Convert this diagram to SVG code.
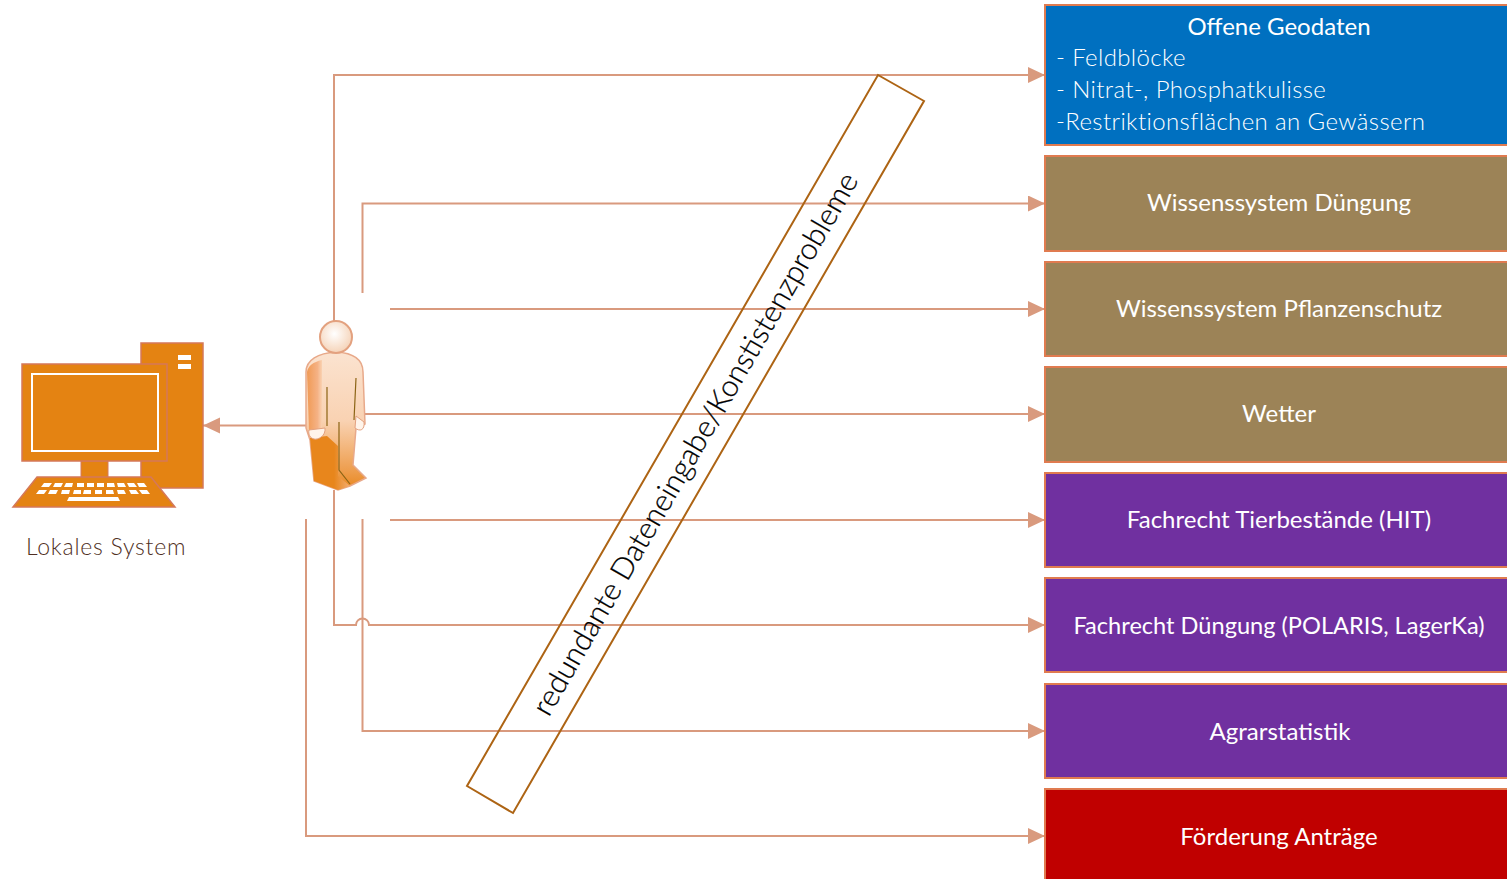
<svg xmlns="http://www.w3.org/2000/svg" width="1507" height="879" viewBox="0 0 1507 879">
<defs>
<marker id="arr" markerUnits="userSpaceOnUse" markerWidth="18" markerHeight="18" refX="17" refY="8" orient="auto"><path d="M0 0L17 8L0 16Z" fill="#d99a7e"/></marker>
<linearGradient id="body" x1="0" y1="0" x2="0" y2="1"><stop offset="0" stop-color="#fbe3d0"/><stop offset=".5" stop-color="#f9d2b2"/><stop offset=".85" stop-color="#ee9f50"/><stop offset="1" stop-color="#e8861c"/></linearGradient>
<linearGradient id="leg" x1="0" y1="0" x2="1" y2="0"><stop offset="0" stop-color="#e8861c"/><stop offset=".6" stop-color="#e8861c"/><stop offset="1" stop-color="#f2ad72"/></linearGradient>
<linearGradient id="arm" x1="0" y1="0" x2="1" y2="0"><stop offset="0" stop-color="#f09a55"/><stop offset=".7" stop-color="#f5b285"/><stop offset="1" stop-color="#f9d2b2"/></linearGradient>
<radialGradient id="head" cx=".45" cy=".4" r=".6"><stop offset="0" stop-color="#fff"/><stop offset="1" stop-color="#f5d3b8"/></radialGradient>
</defs>
<style>
.box{stroke:#e07b50;stroke-width:2}
.t{font-family:"Lato","Liberation Sans",sans-serif;fill:#fff;font-size:24px;text-anchor:middle}
.l{text-anchor:start;font-weight:300;letter-spacing:.38px}
.c{fill:none;stroke:#d99a7e;stroke-width:2}
.pc{fill:#e48312;stroke:#d5785a;stroke-width:1.5}
.w{fill:#fff}
</style>
<g id="connectors">
<path class="c" d="M334 321V75H1045" marker-end="url(#arr)"/>
<path class="c" d="M362.500 293V203.500H1045" marker-end="url(#arr)"/>
<path class="c" d="M390 309H1045" marker-end="url(#arr)"/>
<path class="c" d="M362 414H1045" marker-end="url(#arr)"/>
<path class="c" d="M390 520H1045" marker-end="url(#arr)"/>
<path class="c" d="M334 490V625H356A6.500 6.500 0 0 1 369 625H1045" marker-end="url(#arr)"/>
<path class="c" d="M362.500 519V731H1045" marker-end="url(#arr)"/>
<path class="c" d="M306 519V836H1045" marker-end="url(#arr)"/>
<path class="c" d="M308 425.500H203" marker-end="url(#arr)"/>
</g>
<g id="lokales-system">
<rect class="pc" x="141" y="343" width="62" height="145"/>
<rect class="w" x="178" y="355" width="13" height="5"/><rect class="w" x="178" y="364" width="13" height="5"/>
<rect x="81" y="461" width="27" height="18" fill="#e48312" stroke="#d5785a"/>
<rect class="pc" x="22" y="364" width="145" height="97"/>
<rect x="32" y="374" width="126" height="77" fill="none" stroke="#fff" stroke-width="2"/>
<path class="pc" d="M37 477H151L175 507H13Z"/>
<path class="w" d="M44 483h8l-3 4h-8zM55 483h8l-2 4h-8zM66 483h7l-1 4h-8zM77 483h7v4h-7zM87 483h7v4h-7zM97 483h7v4h-7zM107 483h7l1 4h-8zM117 483h7l2 4h-8zM127 483h7l3 4h-8zM137 483h7l3 4h-8z"/>
<path class="w" d="M39 490h8l-3 4h-8zM50 490h8l-2 4h-8zM62 490h8l-1 4h-8zM74 490h7v4h-8zM84 490h7v4h-8zM95 490h7v4h-7zM106 490h7l1 4h-8zM117 490h7l2 4h-8zM129 490h7l3 4h-8zM139 490h8l3 4h-8z"/>
<path class="w" d="M69 497H118L120 501H67Z"/>
<text x="26" y="555" style="font-family:Lato,'Liberation Sans',sans-serif;font-size:23px;font-weight:300;fill:#4f2f23;letter-spacing:.75px">Lokales System</text>
</g>
<g id="person">
<path d="M306 372C306 360 318 353 336 352C354 353 363 360 363 372L365 424L356 428L353 465L366 478L350 486L338 490L314 481L310 440L306 428Z" fill="url(#body)" stroke="#e8a98a" stroke-width="1.500"/>
<path d="M310 438L327 436L338 446V476L350 486L338 490L314 481Z" fill="url(#leg)"/>
<path d="M307 372C308 366 313 362 322 360V430L309 430Z" fill="url(#arm)"/>
<path d="M327 387V426M339 422V470L350 484M356 378L354 420" fill="none" stroke="#8c6414" stroke-width="1.200"/>
<path d="M309 430L325 428C326 436 318 440 314 439C310 438 308 434 309 430Z" fill="#fff4ea" stroke="#e3a17f"/>
<path d="M356 416L364 422C365 430 360 432 355 428Z" fill="#fff4ea" stroke="#e3a17f"/>
<circle cx="336" cy="337" r="16" fill="url(#head)" stroke="#e3a17f" stroke-width="2"/>
</g>
<g id="offene-geodaten">
<rect class="box" x="1045" y="5" width="463" height="140" fill="#0070c0"/>
<text class="t" x="1279" y="35">Offene Geodaten</text>
<text class="t l" x="1056" y="66">- Feldblöcke</text>
<text class="t l" x="1056" y="98">- Nitrat-, Phosphatkulisse</text>
<text class="t l" x="1056" y="130">-Restriktionsflächen an Gewässern</text>
</g>
<g id="wissen-duengung"><rect class="box" x="1045" y="156" width="463" height="95" fill="#9c8357"/><text class="t" x="1279" y="211">Wissenssystem Düngung</text></g>
<g id="wissen-pflanzenschutz"><rect class="box" x="1045" y="262" width="463" height="94" fill="#9c8357"/><text class="t" x="1279" y="317">Wissenssystem Pflanzenschutz</text></g>
<g id="wetter"><rect class="box" x="1045" y="367" width="463" height="95" fill="#9c8357"/><text class="t" x="1279" y="422">Wetter</text></g>
<g id="fachrecht-tier"><rect class="box" x="1045" y="473" width="463" height="94" fill="#7030a0"/><text class="t" x="1279" y="528">Fachrecht Tierbestände (HIT)</text></g>
<g id="fachrecht-duengung"><rect class="box" x="1045" y="578" width="463" height="94" fill="#7030a0"/><text class="t" x="1279" y="634" style="font-size:23.600px">Fachrecht Düngung (POLARIS, LagerKa)</text></g>
<g id="agrarstatistik"><rect class="box" x="1045" y="684" width="463" height="94" fill="#7030a0"/><text class="t" x="1280" y="740">Agrarstatistik</text></g>
<g id="foerderung"><rect class="box" x="1045" y="789" width="463" height="95" fill="#c00000"/><text class="t" x="1279" y="845">Förderung Anträge</text></g>
<g id="banner">
<path d="M878 75L924 101L513 813L467 786Z" fill="none" stroke="#ad6414" stroke-width="2"/>
<text transform="translate(704 449) rotate(-60)" text-anchor="middle" style="font-family:Lato,'Liberation Sans',sans-serif;font-size:30px;font-weight:300;fill:#000;stroke:#000;stroke-width:.25">redundante Dateneingabe/Konstistenzprobleme</text>
</g>
</svg>
